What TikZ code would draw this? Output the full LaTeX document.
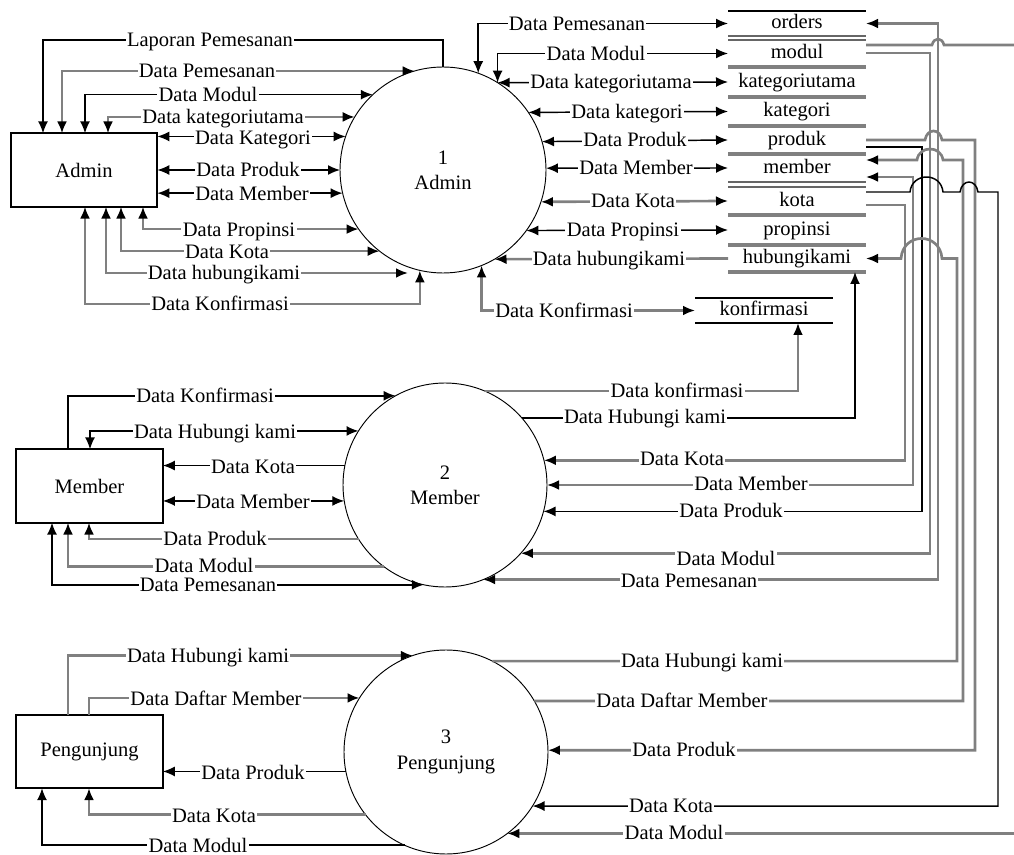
\documentclass[tikz,border=0pt]{standalone}
\usepackage{fontspec}
\setmainfont{Liberation Serif}
\usetikzlibrary{arrows.meta}
\begin{document}
\begin{tikzpicture}[x=0.75pt,y=-0.75pt,
  every node/.style={font=\fontsize{15.4}{19}\selectfont},
  >={Latex[length=9pt,width=7.5pt,color=black]},
  lk/.style={draw=black,line width=1.1pt},
  lg/.style={draw=black!50,line width=2pt},
  lab/.style={fill=white,inner xsep=1pt,inner ysep=0pt,text height=10.5pt,text depth=0.5pt},
  ent/.style={draw,line width=1.3pt,minimum width=110pt,minimum height=55pt,inner sep=0pt,outer sep=0pt},
  proc/.style={draw,circle,line width=0.7pt,inner sep=0pt,outer sep=0pt,align=center},
  store/.style={inner sep=0pt,outer sep=0pt,minimum width=103.5pt,text height=10.5pt,text depth=2.5pt},
  sl/.style={draw=black!50,line width=2.4pt},
  sd/.style={draw=black!60,line width=1.1pt},
  st/.style={draw=black,line width=0.9pt}]
\useasboundingbox (0,0) rectangle (1014,855);

% external entities
\node[ent] (Admin) at (84,170) {Admin};
\node[ent] (Member) at (89.5,486) {Member};
\node[ent] (Pengunjung) at (89.5,751.5) {Pengunjung};

% processes
\node[proc,minimum size=154.5pt] (C1) at (443,170) {1\\Admin};
\node[proc,minimum size=153pt] (C2) at (445,485) {2\\Member};
\node[proc,minimum size=153pt] (C3) at (446,752) {3\\Pengunjung};

% data stores
\node[store,minimum height=18.75pt] (orders) at (797,23.5) {orders};
\node[store,minimum height=20.25pt] (modul) at (797,53.5) {modul};
\node[store,minimum height=22.5pt] (kategoriutama) at (797,82) {kategoriutama};
\node[store,minimum height=21.75pt] (kategori) at (797,111.5) {kategori};
\node[store,minimum height=21pt] (produk) at (797,140) {produk};
\node[store,minimum height=21pt] (member) at (797,168) {member};
\node[store,minimum height=21pt] (kota) at (797,201) {kota};
\node[store,minimum height=22.5pt] (propinsi) at (797,230) {propinsi};
\node[store,minimum height=20.25pt] (hubungikami) at (797,258.5) {hubungikami};
\node[store,minimum height=18.75pt] (konfirmasi) at (764,310.5) {konfirmasi};

\draw[st] (orders.west |- 0,11) -- (orders.east |- 0,11);
\foreach \yy in {36,40,182,187} \draw[sd] (orders.west |- 0,\yy) -- (orders.east |- 0,\yy);
\foreach \yy in {67,97,126,154,215,245,272} \draw[sl] (orders.west |- 0,\yy) -- (orders.east |- 0,\yy);
\draw[st] (konfirmasi.west |- 0,298) -- (konfirmasi.east |- 0,298);
\draw[st] (konfirmasi.west |- 0,323) -- (konfirmasi.east |- 0,323);

% ---- Admin entity <-> process 1
\draw[lk,->] (C1.north) -- (C1.north |- 0,40) -| (Admin.north -| 43,0) node[lab] at (210,40) {Laporan Pemesanan};
\draw[lg,<->] (Admin.north -| 62,0) |- (C1.106) node[lab] at (207,71) {Data Pemesanan};
\draw[lk,<->] (Admin.north -| 85,0) |- (C1.133.3) node[lab] at (208,95) {Data Modul};
\draw[lg,<->] (Admin.north -| 108,0) |- (C1.149) node[lab] at (223,117) {Data kategoriutama};
\draw[lk,<->] (Admin.east |- C1.161.9) -- (C1.161.9) node[lab] at (253,138) {Data Kategori};
\draw[lk,<->] (Admin.east) -- (C1.west) node[lab] at (248,170) {Data Produk};
\draw[lk,<->] (Admin.east |- C1.193.5) -- (C1.193.5) node[lab] at (252,194) {Data Member};
\draw[lg,<->] (Admin.south -| 143,0) |- (C1.215.6) node[lab] at (239,230) {Data Propinsi};
\draw[lg,<->] (Admin.south -| 121,0) |- (C1.232.8) node[lab] at (227,252) {Data Kota};
\coordinate (hk1) at (408,273);
\draw[lg,<->] (Admin.south -| 106,0) |- (hk1) node[lab] at (224,273) {Data hubungikami};
\draw[lg,<->] (Admin.south -| 85,0) |- (C1.257.1 |- 0,304) -- (C1.257.1) node[lab] at (220,304) {Data Konfirmasi};

% ---- process 1 <-> stores
\draw[lk,<->] (C1.70.7) |- (orders.west) node[lab] at (577,23.5) {Data Pemesanan};
\draw[lk,<->] (C1.58.4) |- (modul.west) node[lab] at (596,53.5) {Data Modul};
\draw[lk,<->] (C1.58.7) -- (kategoriutama.west) node[lab] at (611,82) {Data kategoriutama};
\draw[lk,<->] (C1.34.6) -- (kategori.west) node[lab] at (627,111.5) {Data kategori};
\draw[lk,<->] (C1.16.9) -- (produk.west) node[lab] at (635,140) {Data Produk};
\draw[lk,<->] (C1.1.1) -- (member.west) node[lab] at (636,168) {Data Member};
\draw[lg,<->] (C1.342.5) -- (kota.west) node[lab] at (633,201) {Data Kota};
\draw[lk,<->] (C1.324.4) -- (propinsi.west) node[lab] at (623,230) {Data Propinsi};
\draw[lg,->] (hubungikami.west) -- (C1.300.8) node[lab] at (609,258.5) {Data hubungikami};
\draw[lg,<->] (C1.292.9) |- (konfirmasi.west) node[lab] at (564,310.5) {Data Konfirmasi};

% ---- Member entity <-> process 2
\draw[lk,->] (Member.north -| 68,0) |- (C2.119.2) node[lab] at (205,396) {Data Konfirmasi};
\draw[lk,<->] (Member.north -| 90,0) |- (C2.148.7) node[lab] at (215,432) {Data Hubungi kami};
\draw[lk,->] (C2.169.8) -- (Member.east |- C2.169.8) node[lab] at (253,467) {Data Kota};
\draw[lk,<->] (Member.east |- C2.189.6) -- (C2.189.6) node[lab] at (253,502) {Data Member};
\draw[lg,->] (C2.212) -| (Member.south -| 89,0) node[lab] at (215,539) {Data Produk};
\draw[lg,->] (C2.233.5) -| (Member.south -| 68,0) node[lab] at (204,566) {Data Modul};
\draw[lk,<->] (Member.south -| 52,0) |- (C2.258.6) node[lab] at (208,585) {Data Pemesanan};

% ---- process 2 <-> stores
\draw[lg,->] (C2.67.2) -| (konfirmasi.south -| 798,0) node[lab] at (677,391) {Data konfirmasi};
\draw[lk,->] (C2.41.8) -| (hubungikami.south -| 855,0) node[lab] at (645,417) {Data Hubungi kami};
\draw[lg,->] (kota.east |- 0,205) -| (C2.14.8 -| 905,0) -- (C2.14.8) node[lab] at (682,459) {Data Kota};
\draw[lg,<->] (member.east |- 0,177) -| (C2.0.6 -| 913,0) -- (C2.0.6) node[lab] at (751,484) {Data Member};
\draw[lk,->] (produk.east |- 0,147) -| (C2.345.2 -| 922,0) -- (C2.345.2) node[lab] at (731,511) {Data Produk};
\draw[lg,->] (modul.east |- 0,53) -| (C2.318.2 -| 930,0) -- (C2.318.2) node[lab] at (726,559) {Data Modul};
\draw[lg,<->] (C2.292.8) -| (orders.east -| 938,0) -- (orders.east) node[lab] at (689,581) {Data Pemesanan};

% ---- Pengunjung entity <-> process 3
\draw[lg,->] (Pengunjung.north -| 68,0) |- (C3.109.7) node[lab] at (208,656) {Data Hubungi kami};
\draw[lg,->] (Pengunjung.north -| 89,0) |- (C3.148.7) node[lab] at (216,699) {Data Daftar Member};
\draw[lk,->] (C3.191.9) -- (Pengunjung.east |- C3.191.9) node[lab] at (253,773) {Data Produk};
\draw[lg,->] (C3.218.9) -| (Pengunjung.south -| 89,0) node[lab] at (214,816) {Data Kota};
\draw[lk,->] (C3.246.5) -| (Pengunjung.south -| 42,0) node[lab] at (198,845.5) {Data Modul};

% ---- process 3 <-> stores (with line hops)
\draw[lg,->] (C3.63.1) -| (hubungikami.east -| 957,0) -- (942,258.5) .. controls (940,231.8) and (903,231.8) .. (901,258.5) -- (hubungikami.east) node[lab] at (702,661) {Data Hubungi kami};
\draw[lg,->] (C3.30) -| (963,160) -- (943,160) .. controls (941,145.3) and (919,145.3) .. (917,160) -- (member.east |- 0,160) node[lab] at (682,701) {Data Daftar Member};
\draw[lg,->] (produk.east) -- (925,140) .. controls (927,128) and (940,128) .. (942,140) -| (C3.1.1 -| 975,0) -- (C3.1.1) node[lab] at (684,750) {Data Produk};
\draw[lk,->] (kota.east |- 0,192) -- (910,192) .. controls (912,172) and (941,172) .. (943,192) -- (960,192) .. controls (962,178.7) and (976,178.7) .. (978,192) -| (C3.328 -| 998,0) -- (C3.328) node[lab] at (671,806) {Data Kota};
\draw[lg,->] (modul.east |- 0,45) -- (932,45) .. controls (934,37) and (942,37) .. (944,45) -- (1030,45) |- (C3.307.4) node[lab] at (674,833) {Data Modul};
\end{tikzpicture}
\end{document}
